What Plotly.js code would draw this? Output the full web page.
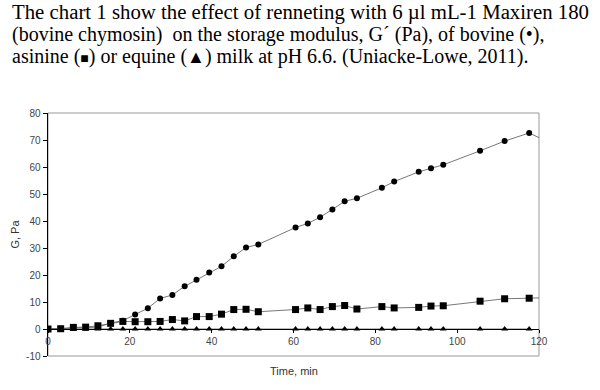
<!DOCTYPE html>
<html>
<head>
<meta charset="utf-8">
<script src="https://cdn.plot.ly/plotly-3.0.1.min.js"></script>
<style>html,body{margin:0;padding:0;background:#fff;}#chart{width:600px;height:390px;}</style>
</head>
<body>
<div id="chart"></div>
<script>
// Time (min) for each sample
const bovineTime = [0, 3.1, 6.2, 9.2, 12.2, 15.3, 18.3, 21.3, 24.4, 27.4, 30.4, 33.4, 36.3, 39.4, 42.4, 45.4, 48.4, 51.4, 60.5, 63.5, 66.5, 69.5, 72.5, 75.5, 81.6, 84.6, 90.6, 93.6, 96.6, 105.6, 111.6, 117.6, 121.5];
const bovineG = [0, 0.1, 0.4, 0.5, 0.7, 2.2, 3.1, 5.4, 7.7, 11.3, 12.6, 15.8, 18.2, 20.9, 23.2, 26.9, 30.2, 31.3, 37.6, 39.1, 41.4, 44.3, 47.3, 48.4, 52.3, 54.6, 58.2, 59.5, 60.8, 66.0, 69.6, 72.6, 69.8];

const asinineTime = [0, 3.1, 6.2, 9.2, 12.2, 15.3, 18.3, 21.3, 24.4, 27.4, 30.4, 33.4, 36.3, 39.4, 42.4, 45.4, 48.4, 51.4, 60.5, 63.5, 66.5, 69.5, 72.5, 75.5, 81.6, 84.6, 90.6, 93.6, 96.6, 105.6, 111.6, 117.6, 121.5];
const asinineG = [0, 0.1, 0.6, 0.7, 1.2, 2.1, 2.8, 2.7, 2.7, 2.8, 3.5, 3.0, 4.6, 4.6, 5.5, 7.2, 7.3, 6.4, 7.2, 7.8, 7.2, 8.3, 8.7, 7.4, 8.3, 7.8, 8.0, 8.5, 8.6, 10.3, 11.2, 11.4, 11.6];

const equineTime = [0, 3.1, 6.2, 9.2, 12.2, 15.3, 18.3, 21.3, 24.4, 27.4, 30.4, 33.4, 36.3, 39.4, 42.4, 45.4, 48.4, 51.4, 60.5, 63.5, 66.5, 69.5, 72.5, 75.5, 81.6, 84.6, 90.6, 93.6, 96.6, 105.6, 111.6, 117.6];
const equineG = [0, 0, 0, 0, 0, 0, 0, 0, 0, 0, 0, 0, 0, 0, 0, 0, 0, 0, 0, 0, 0, 0, 0, 0, 0, 0, 0, 0, 0, 0, 0, 0];

const xTicks = [0, 20, 40, 60, 80, 100, 120];
const yTicks = [-10, 0, 10, 20, 30, 40, 50, 60, 70, 80];

const titleLines = [
  'The chart 1 show the effect of renneting with 6 µl mL-1 Maxiren 180',
  '(bovine chymosin)\u00a0 on the storage modulus, G´ (Pa), of bovine (•),',
  'asinine (<span style="font-size:14px">■</span>) or equine (<span style="font-size:18px">▲</span>) milk at pH 6.6. (Uniacke-Lowe, 2011).'
];
const titleSizes = [20.8, 20, 20];

const lineStyle = {color: '#555', width: 0.8};

const traces = [
  {x: equineTime, y: equineG, type: 'scatter', mode: 'lines+markers', name: 'equine',
   line: lineStyle, marker: {symbol: 'triangle-up', size: 6, color: '#000'}},
  {x: asinineTime, y: asinineG, type: 'scatter', mode: 'lines+markers', name: 'asinine',
   line: lineStyle, marker: {symbol: 'square', size: 7, color: '#000'}},
  {x: bovineTime, y: bovineG, type: 'scatter', mode: 'lines+markers', name: 'bovine',
   line: lineStyle, marker: {symbol: 'circle', size: 6, color: '#000'}}
];

const tickFont = {family: 'Liberation Sans, Arial, sans-serif', size: 10, color: '#444'};

// plot area in px: left 48, right 539, top 113, bottom 356
const titleCentersPx = [12, 35, 57];
const titleAnnotations = titleLines.map((t, i) => ({
  text: t, xref: 'paper', yref: 'paper',
  x: (10 - 48) / 491, y: (356 - titleCentersPx[i]) / 243,
  xanchor: 'left', yanchor: 'middle', align: 'left', showarrow: false,
  font: {family: 'Liberation Serif, Times New Roman, serif', size: titleSizes[i], color: '#000'}
}));

const layout = {
  width: 600, height: 390,
  margin: {l: 48, r: 61, t: 113, b: 34, pad: 0},
  paper_bgcolor: '#fff', plot_bgcolor: '#fff',
  showlegend: false,
  xaxis: {
    range: [0, 120], tickvals: xTicks, ticktext: xTicks.map(String),
    anchor: 'free', position: 10 / 90,
    showline: true, linecolor: '#000', linewidth: 1.2,
    ticks: 'outside', ticklen: 3, tickcolor: '#000', tickwidth: 1,
    showgrid: false, zeroline: false,
    tickfont: tickFont
  },
  yaxis: {
    range: [-10, 80], tickvals: yTicks, ticktext: yTicks.map(String),
    showline: true, linecolor: '#000', linewidth: 1.5,
    ticks: 'outside', ticklen: 4, tickcolor: '#000', tickwidth: 1,
    showgrid: false, zeroline: false,
    tickfont: tickFont
  },
  shapes: [
    {type: 'rect', xref: 'paper', yref: 'paper', x0: 0, x1: 1, y0: 0, y1: 1,
     line: {color: '#999', width: 1}, layer: 'below'}
  ],
  annotations: titleAnnotations.concat([
    {text: 'Time, min', xref: 'paper', yref: 'paper', x: 0.5, y: -0.062,
     xanchor: 'center', yanchor: 'middle', showarrow: false,
     font: {family: 'Liberation Sans, Arial, sans-serif', size: 11, color: '#333'}},
    {text: 'G, Pa', xref: 'paper', yref: 'paper', x: -0.069, y: 0.5, textangle: -90,
     xanchor: 'center', yanchor: 'middle', showarrow: false,
     font: {family: 'Liberation Sans, Arial, sans-serif', size: 11, color: '#333'}}
  ])
};

Plotly.newPlot('chart', traces, layout, {displayModeBar: false, staticPlot: true});
</script>
</body>
</html>
